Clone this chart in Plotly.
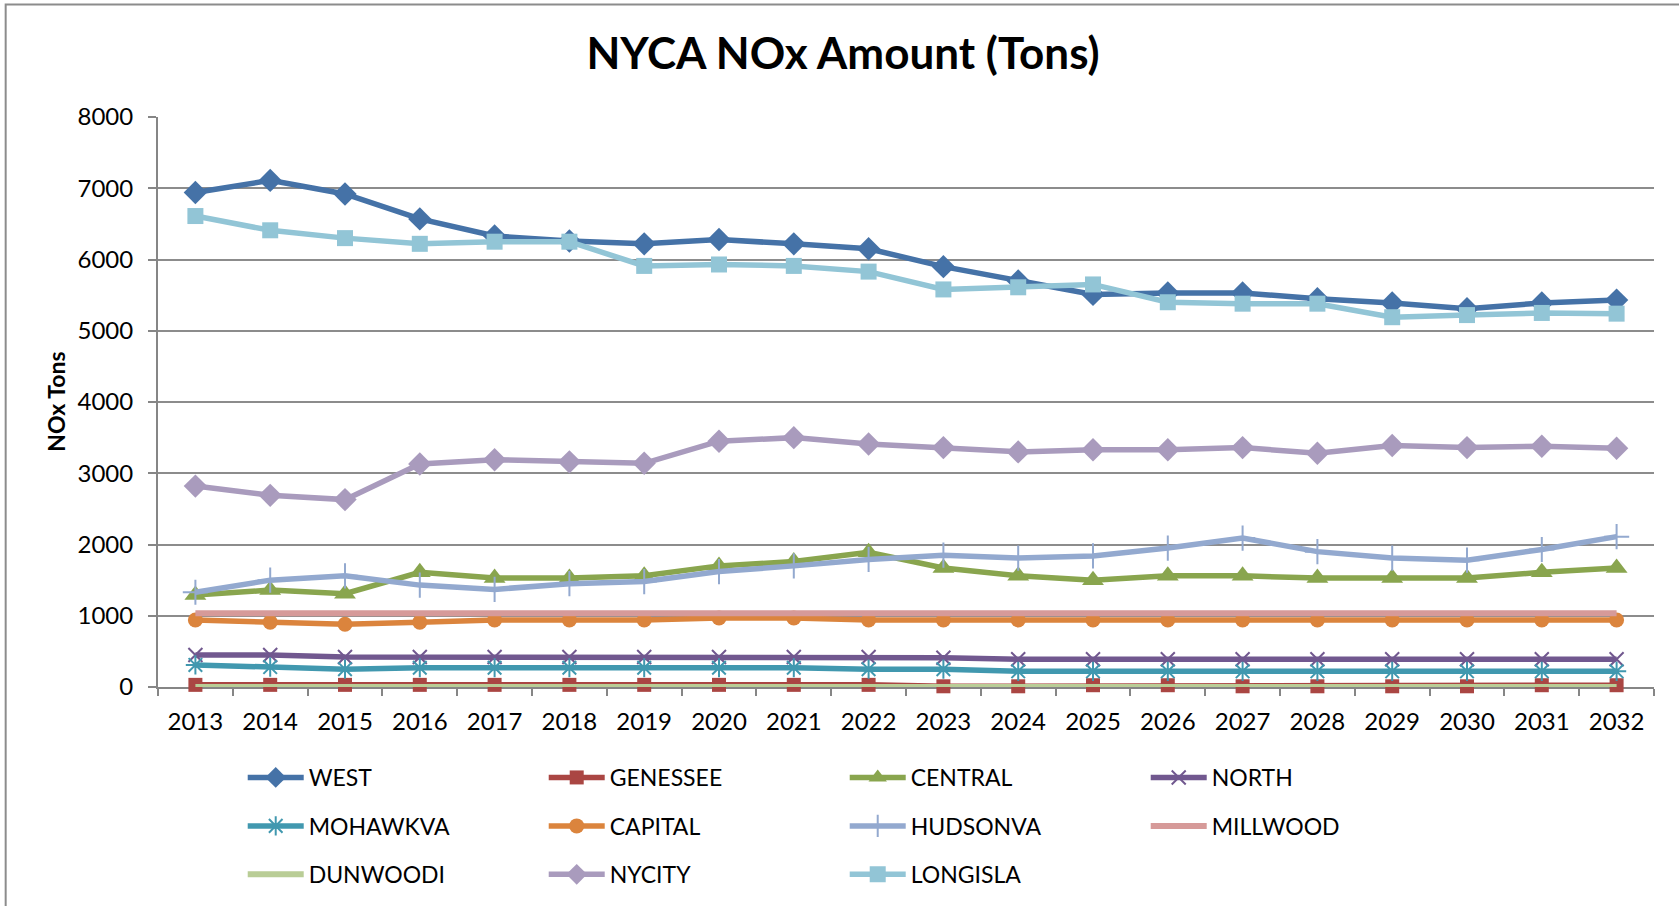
import plotly.graph_objects as go

years = [str(y) for y in range(2013, 2033)]

WEST = [6940, 7110, 6920, 6570, 6330, 6260, 6220, 6280, 6220, 6150, 5900, 5700, 5510, 5530, 5530, 5450, 5390, 5310, 5390, 5430]
GENESSEE = [30, 30, 30, 30, 30, 30, 30, 30, 30, 30, 10, 10, 25, 25, 10, 10, 10, 10, 25, 25]
CENTRAL = [1290, 1360, 1310, 1610, 1530, 1530, 1560, 1700, 1760, 1890, 1670, 1560, 1500, 1560, 1560, 1530, 1530, 1530, 1610, 1670]
NORTH = [450, 450, 420, 420, 420, 420, 420, 420, 420, 420, 410, 390, 390, 390, 390, 390, 390, 390, 390, 390]
MOHAWKVA = [310, 280, 250, 270, 270, 270, 270, 270, 270, 250, 250, 220, 220, 220, 220, 220, 220, 220, 220, 220]
CAPITAL = [940, 910, 880, 910, 940, 940, 940, 970, 970, 940, 940, 940, 940, 940, 940, 940, 940, 940, 940, 940]
HUDSONVA = [1330, 1500, 1560, 1430, 1370, 1450, 1480, 1620, 1700, 1790, 1850, 1810, 1840, 1950, 2090, 1900, 1810, 1780, 1930, 2110]
MILLWOOD = [1035, 1035, 1035, 1035, 1035, 1035, 1035, 1035, 1035, 1035, 1035, 1035, 1035, 1035, 1035, 1035, 1035, 1035, 1035, 1035]
DUNWOODI = [0, 0, 0, 0, 0, 0, 0, 0, 0, 0, 0, 0, 0, 0, 0, 0, 0, 0, 0, 0]
NYCITY = [2820, 2690, 2630, 3130, 3190, 3160, 3140, 3450, 3500, 3410, 3360, 3300, 3330, 3330, 3360, 3280, 3390, 3360, 3380, 3350]
LONGISLA = [6610, 6410, 6300, 6220, 6250, 6250, 5910, 5930, 5910, 5830, 5580, 5610, 5650, 5400, 5380, 5380, 5190, 5220, 5250, 5240]

series = [
    ("WEST", WEST, "#4572A7", "diamond", 18, "legend"),
    ("GENESSEE", GENESSEE, "#AA4643", "square", 14, "legend"),
    ("CENTRAL", CENTRAL, "#89A54E", "triangle-up", 19, "legend"),
    ("NORTH", NORTH, "#71588F", "x-thin-open", 14, "legend"),
    ("MOHAWKVA", MOHAWKVA, "#4198AF", "asterisk-open", 16, "legend2"),
    ("CAPITAL", CAPITAL, "#DB843D", "circle", 15, "legend2"),
    ("HUDSONVA", HUDSONVA, "#93A9CF", "cross-thin-open", 18, "legend2"),
    ("MILLWOOD", MILLWOOD, "#D69A99", None, 0, "legend2"),
    ("DUNWOODI", DUNWOODI, "#B9CD96", None, 0, "legend3"),
    ("NYCITY", NYCITY, "#A99BBD", "diamond", 18, "legend3"),
    ("LONGISLA", LONGISLA, "#92C5D6", "square", 16, "legend3"),
]

fig = go.Figure()
for name, vals, color, sym, size, leg in series:
    if sym is None:
        fig.add_trace(go.Scatter(x=years, y=vals, name=name, mode="lines", cliponaxis=False,
                                 line=dict(color=color, width=6), legend=leg))
    else:
        mk = dict(symbol=sym, size=size, color=color)
        if sym.endswith("open"):
            mk["line"] = dict(color=color, width=2)
        fig.add_trace(go.Scatter(x=years, y=vals, name=name, mode="lines+markers", cliponaxis=False,
                                 line=dict(color=color, width=5.5), marker=mk, legend=leg))

W, H = 1679, 906
L, R, T, B = 158.3, 1654, 116.7, 687.4
pw, ph = R - L, B - T

def px_x(x):
    return (x - L) / pw

def px_y(y):
    return (B - y) / ph

legend_common = dict(orientation="h", xanchor="left", yanchor="middle",
                     font=dict(family="Lato", size=23, color="black"),
                     itemwidth=56, entrywidth=230, entrywidthmode="pixels",
                     bgcolor="rgba(0,0,0,0)", tracegroupgap=0)

fig.update_layout(
    width=W, height=H,
    margin=dict(l=L, r=W - R, t=T, b=H - B, autoexpand=False),
    paper_bgcolor="white", plot_bgcolor="white",
    font=dict(family="Lato", color="black"),
    title=dict(text="<b>NYCA NOx Amount (Tons)</b>", x=843 / W, xanchor="center",
               y=1 - 54 / H, yanchor="middle",
               font=dict(family="Lato", size=44, color="black")),
    xaxis=dict(type="category", range=[-0.5, 19.5], tickson="boundaries",
               ticks="outside", ticklen=7, tickwidth=2, tickcolor="#868686",
               showline=True, linecolor="#868686", linewidth=2, showgrid=False,
               layer="below traces",
               tickfont=dict(family="Lato", size=24, color="black"), ticklabelstandoff=12),
    yaxis=dict(range=[0, 8000], dtick=1000, tickformat="d",
               ticks="outside", ticklen=8, tickwidth=2, tickcolor="#868686",
               showline=True, linecolor="#868686", linewidth=2,
               showgrid=True, gridcolor="#8c8c8c", gridwidth=2, zeroline=False,
               layer="below traces",
               tickfont=dict(family="Lato", size=24, color="black"), ticklabelstandoff=10),
    annotations=[dict(text="<b>NOx Tons</b>", xref="paper", yref="paper",
                      x=px_x(56), y=0.5, xanchor="center", yanchor="middle",
                      textangle=-90, showarrow=False,
                      font=dict(family="Lato", size=23, color="black"))],
    legend=dict(x=px_x(243), y=px_y(778), **legend_common),
    legend2=dict(x=px_x(243), y=px_y(826.5), **legend_common),
    legend3=dict(x=px_x(243), y=px_y(875), **legend_common),
    shapes=[dict(type="rect", xref="paper", yref="paper",
                 x0=px_x(6), x1=px_x(1700), y0=px_y(4), y1=px_y(930),
                 line=dict(color="#8c8c8c", width=2), fillcolor="rgba(0,0,0,0)", layer="below")],
)

fig.write_html("out.html", config={"displayModeBar": False},
               post_script="document.body.style.margin='0px';")
